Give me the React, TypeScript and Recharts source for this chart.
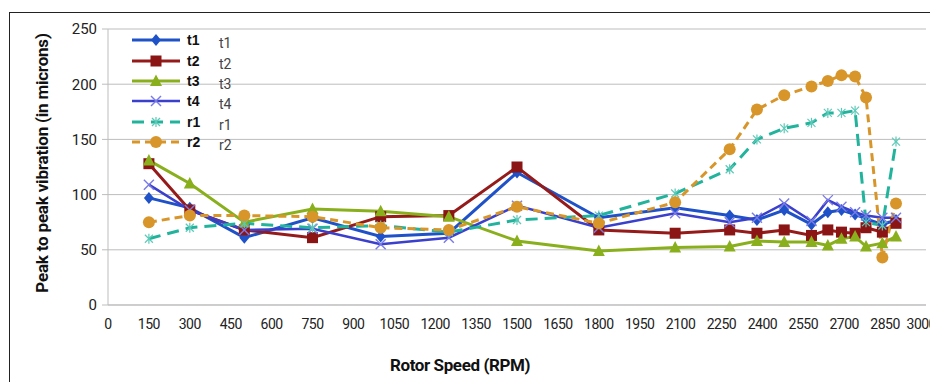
import React from 'react';
import { LineChart, Line, XAxis, YAxis, CartesianGrid, Legend, Label } from 'recharts';

const rpm = [150, 300, 500, 750, 1000, 1250, 1500, 1800, 2080, 2280, 2380, 2480, 2580, 2640, 2690, 2740, 2780, 2840, 2890];
const t1 = [97, 88, 61, 79, 62, 65, 120, 79, 88, 81, 77, 86, 73, 84, 86, 82, 78, 73, 77];
const t2 = [128, 86, 68, 61, 80, 81, 125, 68, 65, 68, 65, 68, 63, 68, 66, 65, 70, 66, 74];
const t3 = [131, 110, 75, 87, 85, 80, 58, 49, 52, 53, 58, 57, 57, 54, 60, 62, 53, 56, 62];
const t4 = [109, 86, 68, 69, 55, 61, 90, 70, 83, 75, 79, 92, 76, 95, 89, 84, 81, 79, 79];
const r1 = [60, 70, 74, 70, 72, 66, 77, 81, 101, 123, 150, 160, 165, 174, 174, 176, 75, 72, 148];
const r2 = [75, 81, 81, 80, 70, 68, 89, 74, 93, 141, 177, 190, 198, 203, 208, 207, 188, 43, 92];

const xTicks = [0, 150, 300, 450, 600, 750, 900, 1050, 1200, 1350, 1500, 1650, 1800, 1950, 2100, 2250, 2400, 2550, 2700, 2850, 3000];
const yTicks = [0, 50, 100, 150, 200, 250];

const seriesKeys = ['t1', 't2', 't3', 't4', 'r1', 'r2'];
const seriesValues = [t1, t2, t3, t4, r1, r2];
const colors = ['#1f52c8', '#951b1b', '#89b01c', '#3a3fcc', '#22b39c', '#d8962a'];
const dashes = ['', '', '', '', '12 7', '8 5'];
const widths = [3, 3, 3, 2.5, 3, 3];

const data = rpm.map((x, i) => {
  const row: any = { rpm: x };
  seriesKeys.forEach((k, j) => { row[k] = seriesValues[j][i]; });
  return row;
});

const FONT = 'Roboto, "Liberation Sans", sans-serif';
const CHART_W = 930;

function Marker({ kind, cx, cy }: { kind: number; cx: number; cy: number }) {
  const c = colors[kind];
  switch (kind) {
    case 0:
      return <polygon points={`${cx},${cy - 6} ${cx + 5},${cy} ${cx},${cy + 6} ${cx - 5},${cy}`} fill={c} />;
    case 1:
      return <rect x={cx - 5.5} y={cy - 5.5} width={11} height={11} fill="#8b1515" />;
    case 2:
      return <polygon points={`${cx},${cy - 6.5} ${cx + 6},${cy + 5} ${cx - 6},${cy + 5}`} fill={c} />;
    case 3:
      return (
        <g stroke="#7a7ae6" strokeWidth={1.4}>
          <line x1={cx - 5} y1={cy - 5} x2={cx + 5} y2={cy + 5} />
          <line x1={cx - 5} y1={cy + 5} x2={cx + 5} y2={cy - 5} />
        </g>
      );
    case 4:
      return (
        <g stroke="#5cc9b8" strokeWidth={1.2}>
          <line x1={cx - 4} y1={cy - 4} x2={cx + 4} y2={cy + 4} />
          <line x1={cx - 4} y1={cy + 4} x2={cx + 4} y2={cy - 4} />
          <line x1={cx} y1={cy - 5} x2={cx} y2={cy + 5} />
        </g>
      );
    default:
      return <circle cx={cx} cy={cy} r={6} fill={c} />;
  }
}

function XTick(props: any) {
  const { x, y, payload } = props;
  const last = payload.value === xTicks[xTicks.length - 1];
  return (
    <text x={last ? CHART_W - 2 : x} y={y} dy="0.71em" textAnchor={last ? 'end' : 'middle'} fill="#222"
      fontSize={14} fontFamily={FONT} letterSpacing={-0.5}>
      {payload.value}
    </text>
  );
}

function renderLegend() {
  return (
    <div style={{ fontFamily: 'Arial, "Liberation Sans", sans-serif' }}>
      {seriesKeys.map((k, i) => (
        <div key={k} style={{ height: 20.4, display: 'flex', alignItems: 'center', position: 'relative' }}>
          <svg width={48} height={20} style={{ display: 'block' }}>
            <line x1={0} y1={10} x2={48} y2={10} stroke={colors[i]} strokeWidth={widths[i]} strokeDasharray={dashes[i] || undefined} />
            <Marker kind={i} cx={24} cy={10} />
          </svg>
          <span style={{ marginLeft: 7, fontWeight: 'bold', fontSize: 14, color: '#111', width: 32 }}>{k}</span>
          <span style={{ fontFamily: FONT, fontSize: 14, color: '#444', position: 'relative', top: 3 }}>{k}</span>
        </div>
      ))}
    </div>
  );
}

export default function App() {
  return (
    <div style={{ position: 'relative', width: CHART_W, height: 374 }}>
      <div
        style={{
          position: 'absolute', left: 1, top: 4, width: 929, height: 370, boxSizing: 'border-box',
          borderLeft: '1px solid #222', borderTop: '1px solid #222',
        }}
      />
      <LineChart width={CHART_W} height={374} data={data} margin={{ top: 21, right: 12, bottom: 17, left: 30 }}>
        <CartesianGrid horizontal vertical={false} stroke="#bdbdbd" strokeWidth={1} />
        <XAxis
          dataKey="rpm"
          type="number"
          domain={[0, 3000]}
          ticks={xTicks}
          interval={0}
          height={60}
          axisLine={{ stroke: '#bdbdbd' }}
          tickLine={false}
          tickMargin={8}
          tick={<XTick />}
        >
          <Label
            content={(p: any) => {
              const vb = p.viewBox;
              return (
                <text x={vb.x + vb.width / 2 - 57} y={vb.y + 66} textAnchor="middle" fontFamily={FONT}
                  fontWeight="bold" fontSize={17} fill="#111" letterSpacing={-0.4}>Rotor Speed (RPM)</text>
              );
            }}
          />
        </XAxis>
        <YAxis
          type="number"
          domain={[0, 250]}
          ticks={yTicks}
          width={70}
          axisLine={{ stroke: '#bdbdbd' }}
          tickLine={{ stroke: '#bdbdbd' }}
          tickSize={6}
          tickMargin={5}
          tick={{ fill: '#222', fontSize: 15, fontFamily: FONT }}
        >
          <Label
            content={(p: any) => {
              const vb = p.viewBox;
              const x = vb.x + 4;
              const y = vb.y + vb.height / 2 - 4;
              return (
                <text x={x} y={y} transform={`rotate(-90 ${x} ${y})`} textAnchor="middle" dominantBaseline="central"
                  fontFamily={FONT} fontWeight="bold" fontSize={17} fill="#111" letterSpacing={-0.2}>Peak to peak vibration (in microns)</text>
              );
            }}
          />
        </YAxis>
        <Legend
          content={renderLegend}
          layout="horizontal"
          verticalAlign="middle"
          align="center"
          wrapperStyle={{ left: 124, top: 22, width: 140, height: 124 }}
        />
        {seriesKeys.map((k, i) => (
          <Line
            key={k}
            dataKey={k}
            type="linear"
            stroke={colors[i]}
            strokeWidth={widths[i]}
            strokeDasharray={dashes[i] || undefined}
            isAnimationActive={false}
            dot={(p: any) => <Marker key={`${k}-${p.index}`} kind={i} cx={p.cx} cy={p.cy} />}
            activeDot={false}
          />
        ))}
      </LineChart>
    </div>
  );
}
